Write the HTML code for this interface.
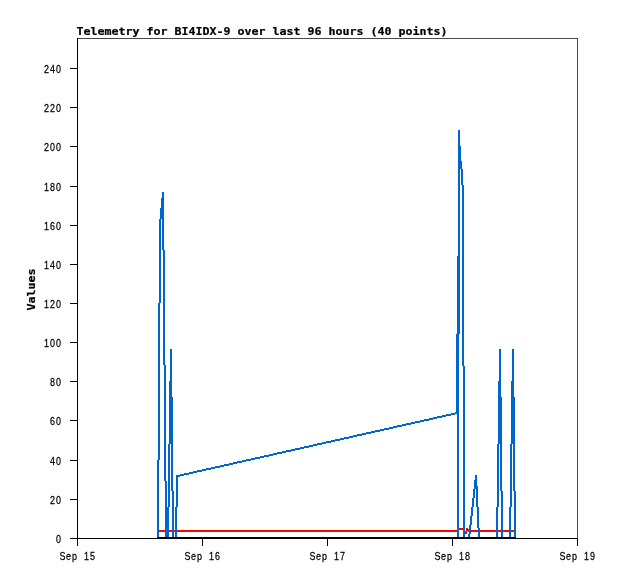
<!DOCTYPE html>
<html lang="en"><head><meta charset="utf-8"><title>Telemetry for BI4IDX-9</title>
<style>html,body{margin:0;padding:0;background:#fff;overflow:hidden}svg{display:block}</style></head>
<body>
<svg width="618" height="579" viewBox="0 0 618 579" shape-rendering="crispEdges">
<rect x="0" y="0" width="618" height="579" fill="#ffffff"/>
<rect x="77" y="38" width="501" height="1" fill="#484848"/>
<rect x="577" y="38" width="1" height="501" fill="#484848"/>
<path d="M459 528h4v2h-4zM463 528h1v3h-1zM467 528h1v3h-1zM466 528h1v6h-1zM458 529h1v3h-1zM468 529h1v3h-1zM158 530h300v2h-300zM469 530h47v2h-47zM464 530h1v3h-1zM465 531h1v3h-1z" fill="#ff0000"/>
<path d="M459 130h1v204h-1zM458 130h1v409h-1zM460 146h1v23h-1zM461 161h1v24h-1zM462 169h1v197h-1zM463 185h1v354h-1zM162 192h1v58h-1zM163 192h1v173h-1zM161 198h1v21h-1zM160 208h1v95h-1zM159 219h1v241h-1zM164 250h1v231h-1zM457 256h1v283h-1zM158 303h1v236h-1zM456 334h1v80h-1zM170 349h1v95h-1zM499 349h1v95h-1zM512 349h1v95h-1zM171 349h1v142h-1zM500 349h1v142h-1zM513 349h1v142h-1zM165 365h1v174h-1zM464 366h1v173h-1zM169 381h1v126h-1zM498 381h1v126h-1zM511 381h1v126h-1zM172 397h1v142h-1zM501 397h1v142h-1zM514 397h1v142h-1zM455 412h1v2h-1zM451 413h4v2h-4zM446 414h5v2h-5zM442 415h4v2h-4zM437 416h5v2h-5zM433 417h4v2h-4zM429 418h4v2h-4zM424 419h5v2h-5zM420 420h4v2h-4zM415 421h5v2h-5zM411 422h4v2h-4zM406 423h5v2h-5zM402 424h4v2h-4zM397 425h5v2h-5zM393 426h4v2h-4zM389 427h4v2h-4zM384 428h5v2h-5zM380 429h4v2h-4zM375 430h5v2h-5zM371 431h4v2h-4zM366 432h5v2h-5zM362 433h4v2h-4zM357 434h5v2h-5zM353 435h4v2h-4zM349 436h4v2h-4zM344 437h5v2h-5zM340 438h4v2h-4zM335 439h5v2h-5zM331 440h4v2h-4zM326 441h5v2h-5zM322 442h4v2h-4zM317 443h5v2h-5zM313 444h4v2h-4zM168 444h1v95h-1zM497 444h1v95h-1zM510 444h1v95h-1zM309 445h4v2h-4zM304 446h5v2h-5zM300 447h4v2h-4zM295 448h5v2h-5zM291 449h4v2h-4zM286 450h5v2h-5zM282 451h4v2h-4zM277 452h5v2h-5zM273 453h4v2h-4zM269 454h4v2h-4zM264 455h5v2h-5zM260 456h4v2h-4zM255 457h5v2h-5zM251 458h4v2h-4zM246 459h5v2h-5zM242 460h4v2h-4zM157 460h1v79h-1zM237 461h5v2h-5zM233 462h4v2h-4zM229 463h4v2h-4zM224 464h5v2h-5zM220 465h4v2h-4zM215 466h5v2h-5zM211 467h4v2h-4zM206 468h5v2h-5zM202 469h4v2h-4zM197 470h5v2h-5zM193 471h4v2h-4zM189 472h4v2h-4zM184 473h5v2h-5zM180 474h4v2h-4zM178 475h2v2h-2zM475 475h1v14h-1zM177 475h1v32h-1zM476 475h1v32h-1zM176 475h1v64h-1zM474 480h1v18h-1zM166 481h1v58h-1zM477 486h1v42h-1zM473 489h1v18h-1zM173 491h1v48h-1zM502 491h1v48h-1zM515 491h1v48h-1zM472 498h1v18h-1zM471 507h1v18h-1zM167 507h1v32h-1zM175 507h1v32h-1zM478 507h1v32h-1zM496 507h1v32h-1zM509 507h1v32h-1zM470 516h1v18h-1zM469 525h1v14h-1zM479 528h1v11h-1zM468 534h1v5h-1zM174 537h1v2h-1zM465 537h3v2h-3zM480 537h16v2h-16zM503 537h6v2h-6z" fill="#0066cc"/>
<path d="M157 537h359v2h-359z" fill="#000000"/>
<path d="M77 38h1v508h-1zM70 538h508v1h-508zM202 538h1v8h-1zM327 538h1v8h-1zM452 538h1v8h-1zM577 538h1v8h-1zM70 499h7v1h-7zM70 460h7v1h-7zM70 420h7v1h-7zM70 381h7v1h-7zM70 342h7v1h-7zM70 303h7v1h-7zM70 264h7v1h-7zM70 225h7v1h-7zM70 186h7v1h-7zM70 146h7v1h-7zM70 107h7v1h-7zM70 68h7v1h-7z" fill="#000000"/>
<g fill="#000" shape-rendering="auto">
<text xml:space="preserve" transform="scale(0.8,1.0)" font-family='"Liberation Sans", "DejaVu Sans", sans-serif' font-size="11.2px" font-weight="normal" stroke="#000" stroke-width="0.25" text-anchor="middle" x="73.12" y="543.0">0</text>
<text xml:space="preserve" transform="scale(0.8,1.0)" font-family='"Liberation Sans", "DejaVu Sans", sans-serif' font-size="11.2px" font-weight="normal" stroke="#000" stroke-width="0.25" text-anchor="middle" x="65.62 73.12" y="504.0">20</text>
<text xml:space="preserve" transform="scale(0.8,1.0)" font-family='"Liberation Sans", "DejaVu Sans", sans-serif' font-size="11.2px" font-weight="normal" stroke="#000" stroke-width="0.25" text-anchor="middle" x="65.62 73.12" y="465.0">40</text>
<text xml:space="preserve" transform="scale(0.8,1.0)" font-family='"Liberation Sans", "DejaVu Sans", sans-serif' font-size="11.2px" font-weight="normal" stroke="#000" stroke-width="0.25" text-anchor="middle" x="65.62 73.12" y="425.0">60</text>
<text xml:space="preserve" transform="scale(0.8,1.0)" font-family='"Liberation Sans", "DejaVu Sans", sans-serif' font-size="11.2px" font-weight="normal" stroke="#000" stroke-width="0.25" text-anchor="middle" x="65.62 73.12" y="386.0">80</text>
<text xml:space="preserve" transform="scale(0.8,1.0)" font-family='"Liberation Sans", "DejaVu Sans", sans-serif' font-size="11.2px" font-weight="normal" stroke="#000" stroke-width="0.25" text-anchor="middle" x="58.12 65.62 73.12" y="347.0">100</text>
<text xml:space="preserve" transform="scale(0.8,1.0)" font-family='"Liberation Sans", "DejaVu Sans", sans-serif' font-size="11.2px" font-weight="normal" stroke="#000" stroke-width="0.25" text-anchor="middle" x="58.12 65.62 73.12" y="308.0">120</text>
<text xml:space="preserve" transform="scale(0.8,1.0)" font-family='"Liberation Sans", "DejaVu Sans", sans-serif' font-size="11.2px" font-weight="normal" stroke="#000" stroke-width="0.25" text-anchor="middle" x="58.12 65.62 73.12" y="269.0">140</text>
<text xml:space="preserve" transform="scale(0.8,1.0)" font-family='"Liberation Sans", "DejaVu Sans", sans-serif' font-size="11.2px" font-weight="normal" stroke="#000" stroke-width="0.25" text-anchor="middle" x="58.12 65.62 73.12" y="230.0">160</text>
<text xml:space="preserve" transform="scale(0.8,1.0)" font-family='"Liberation Sans", "DejaVu Sans", sans-serif' font-size="11.2px" font-weight="normal" stroke="#000" stroke-width="0.25" text-anchor="middle" x="58.12 65.62 73.12" y="191.0">180</text>
<text xml:space="preserve" transform="scale(0.8,1.0)" font-family='"Liberation Sans", "DejaVu Sans", sans-serif' font-size="11.2px" font-weight="normal" stroke="#000" stroke-width="0.25" text-anchor="middle" x="58.12 65.62 73.12" y="151.0">200</text>
<text xml:space="preserve" transform="scale(0.8,1.0)" font-family='"Liberation Sans", "DejaVu Sans", sans-serif' font-size="11.2px" font-weight="normal" stroke="#000" stroke-width="0.25" text-anchor="middle" x="58.12 65.62 73.12" y="112.0">220</text>
<text xml:space="preserve" transform="scale(0.8,1.0)" font-family='"Liberation Sans", "DejaVu Sans", sans-serif' font-size="11.2px" font-weight="normal" stroke="#000" stroke-width="0.25" text-anchor="middle" x="58.12 65.62 73.12" y="73.0">240</text>
<text xml:space="preserve" transform="scale(0.8,1.0)" font-family='"Liberation Sans", "DejaVu Sans", sans-serif' font-size="11.2px" font-weight="normal" stroke="#000" stroke-width="0.25" text-anchor="middle" x="78.12 85.62 93.12 100.62 108.12 115.62" y="560.0">Sep 15</text>
<text xml:space="preserve" transform="scale(0.8,1.0)" font-family='"Liberation Sans", "DejaVu Sans", sans-serif' font-size="11.2px" font-weight="normal" stroke="#000" stroke-width="0.25" text-anchor="middle" x="234.38 241.88 249.38 256.88 264.38 271.88" y="560.0">Sep 16</text>
<text xml:space="preserve" transform="scale(0.8,1.0)" font-family='"Liberation Sans", "DejaVu Sans", sans-serif' font-size="11.2px" font-weight="normal" stroke="#000" stroke-width="0.25" text-anchor="middle" x="390.62 398.12 405.62 413.12 420.62 428.12" y="560.0">Sep 17</text>
<text xml:space="preserve" transform="scale(0.8,1.0)" font-family='"Liberation Sans", "DejaVu Sans", sans-serif' font-size="11.2px" font-weight="normal" stroke="#000" stroke-width="0.25" text-anchor="middle" x="546.88 554.38 561.88 569.38 576.88 584.38" y="560.0">Sep 18</text>
<text xml:space="preserve" transform="scale(0.8,1.0)" font-family='"Liberation Sans", "DejaVu Sans", sans-serif' font-size="11.2px" font-weight="normal" stroke="#000" stroke-width="0.25" text-anchor="middle" x="703.12 710.62 718.12 725.62 733.12 740.62" y="560.0">Sep 19</text>
<text xml:space="preserve" transform="scale(1.06,1.0)" font-family='"DejaVu Sans Mono", "Liberation Mono", monospace' font-size="11.0px" font-weight="bold" stroke="#000" stroke-width="0.22" text-anchor="middle" x="75.47 82.08 88.68 95.28 101.89 108.49 115.09 121.7 128.3 134.91 141.51 148.11 154.72 161.32 167.92 174.53 181.13 187.74 194.34 200.94 207.55 214.15 220.75 227.36 233.96 240.57 247.17 253.77 260.38 266.98 273.58 280.19 286.79 293.4 300.0 306.6 313.21 319.81 326.42 333.02 339.62 346.23 352.83 359.43 366.04 372.64 379.25 385.85 392.45 399.06 405.66 412.26 418.87" y="35.0">Telemetry for BI4IDX-9 over last 96 hours (40 points)</text>
<text xml:space="preserve" transform="translate(35,310) rotate(-90) scale(1.06,1.0)" font-family='"DejaVu Sans Mono", "Liberation Mono", monospace' font-size="11.0px" font-weight="bold" stroke="#000" stroke-width="0.22" text-anchor="middle" x="2.83 9.43 16.04 22.64 29.25 35.85" y="0.0">Values</text>
</g>
</svg>
</body></html>
